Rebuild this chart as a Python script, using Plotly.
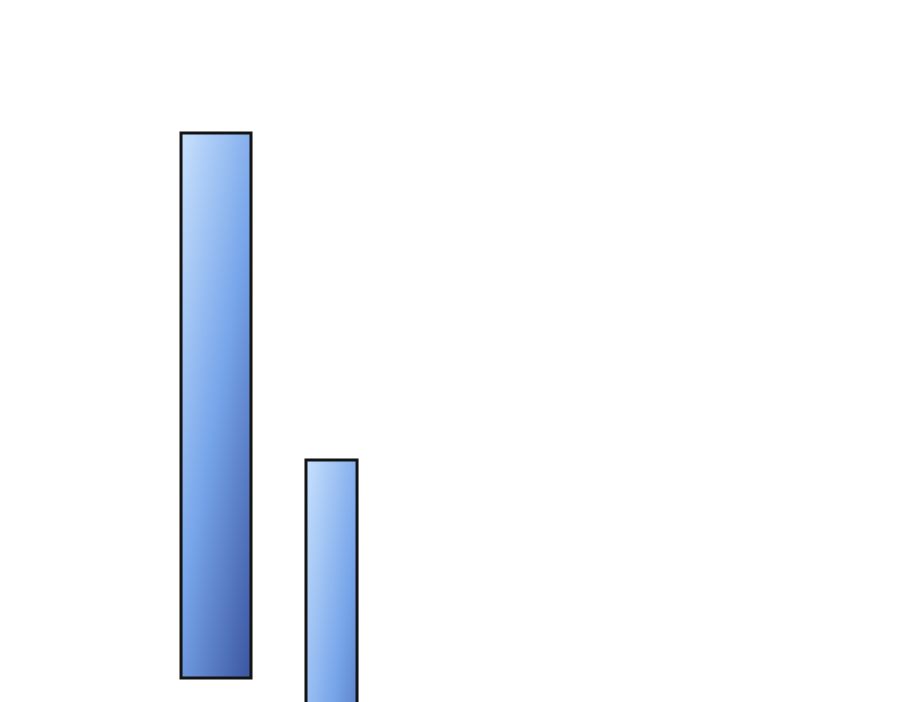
import numpy as np
import plotly.graph_objects as go

# data
positions = [0, 1]
tops = [100, 40]
bases = [0, -50]

# style
widths = [0.606, 0.442]
grad_scale = [[0.0, "#c8e1fd"], [0.5, "#77a5ea"], [1.0, "#3a54a0"]]

fig = go.Figure()

# gradient fill for each bar, drawn as a small heatmap over the bar area
for pos, top, base, w in zip(positions, tops, bases, widths):
    nx, ny = 24, 80
    xe = np.linspace(pos - w / 2, pos + w / 2, nx + 1)
    ye = np.linspace(base, top, ny + 1)
    xc = (xe[:-1] + xe[1:]) / 2
    yc = (ye[:-1] + ye[1:]) / 2
    fx = (xc - xe[0]) / (xe[-1] - xe[0])
    fy = (ye[-1] - yc) / (ye[-1] - ye[0])
    z = 0.42 * fx[None, :] + 0.58 * fy[:, None]
    fig.add_trace(go.Heatmap(x=xe, y=ye, z=z, colorscale=grad_scale, zmin=0, zmax=1,
                             showscale=False, zsmooth="best", hoverinfo="skip"))

# outlines
fig.add_trace(go.Bar(x=positions, y=[t - b for t, b in zip(tops, bases)], base=bases,
                     width=widths, marker=dict(color="rgba(0,0,0,0)",
                                               line=dict(color="#141414", width=3)),
                     hoverinfo="skip"))

fig.update_layout(
    width=892, height=694,
    margin=dict(l=0, r=0, t=0, b=0),
    paper_bgcolor="white", plot_bgcolor="white",
    showlegend=False,
    xaxis=dict(range=[-1.801, 5.922], visible=False),
    yaxis=dict(range=[-4.4, 122.94], visible=False),
)

fig.write_html("out.html")
